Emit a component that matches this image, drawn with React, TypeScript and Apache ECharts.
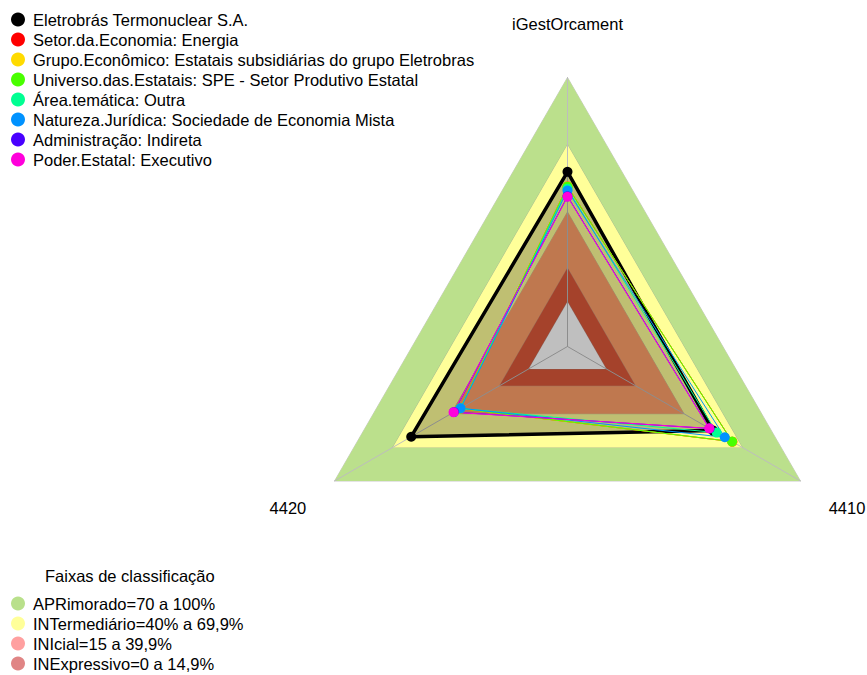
import React, { useEffect, useRef } from "react";
import * as echarts from "echarts";

// ---- data ----
const indicators = ["iGestOrcament", "4420", "4410"];
const axisMin = -20;
const axisMax = 100;

const entities = [
  "Eletrobrás Termonuclear S.A.",
  "Setor.da.Economia: Energia",
  "Grupo.Econômico: Estatais subsidiárias do grupo Eletrobras",
  "Universo.das.Estatais: SPE - Setor Produtivo Estatal",
  "Área.temática: Outra",
  "Natureza.Jurídica: Sociedade de Economia Mista",
  "Administração: Indireta",
  "Poder.Estatal: Executivo",
];
const entityColors = ["#000000", "#FF0000", "#FFDB00", "#49FF00", "#00FF92", "#0092FF", "#4900FF", "#FF00DB"];
const valIGestOrcament = [57.9, 51.4, 51.4, 51.3, 50.4, 49.6, 47.0, 46.8];
const val4420 = [60.5, 35.4, 35.4, 35.3, 35.2, 35.1, 38.5, 38.7];
const val4410 = [55.0, 64.9, 64.9, 64.8, 56.8, 61.0, 53.2, 53.0];

const bandNames = [
  "APRimorado=70 a 100%",
  "INTermediário=40% a 69,9%",
  "INIcial=15 a 39,9%",
  "INExpressivo=0 a 14,9%",
  "",
];
const bandUpper = [100, 70, 40, 15, 0];
const bandLegendColors = ["#b9e08b", "#ffff99", "#ffa0a0", "#e08585", "#ffffff"];
const bandFillColors = ["#bbe08c", "#ffff99", "#ffa06a", "#dc583a", "#ffffff"];
const legendTitle = "Faixas de classificação";

// ---- layout ----
const W = 867;
const H = 675;
const CX = 567.5;
const CY = 346.5;
const R = 269;
const FONT = "'Liberation Sans', Arial, sans-serif";
const FS = 16.5;

export default function App() {
  const ref = useRef<HTMLDivElement>(null);
  useEffect(() => {
    if (!ref.current) return;
    const chart = echarts.init(ref.current, undefined, { renderer: "svg" });

    const bandData = bandNames.map((n, i) => ({
      name: n || "base",
      value: indicators.map(() => bandUpper[i]),
      itemStyle: { color: bandLegendColors[i] },
      lineStyle: { color: "rgba(150,150,150,0.5)", width: 1 },
      areaStyle: { color: bandFillColors[i], opacity: 1 },
    }));

    const entityData = entities.map((n, i) => {
      const item: any = {
        name: n,
        value: [valIGestOrcament[i], val4420[i], val4410[i]],
        symbol: "circle",
        symbolSize: 10,
        itemStyle: { color: entityColors[i] },
        lineStyle: { color: entityColors[i], width: i === 0 ? 3.5 : 1 },
      };
      if (i === 0) item.areaStyle = { color: "rgba(0,0,0,0.25)", opacity: 1 };
      return item;
    });

    const nameTexts = indicators.map((name, i) => {
      const ang = Math.PI / 2 + (i * 2 * Math.PI) / indicators.length;
      return {
        type: "text",
        x: CX + 1.2 * R * Math.cos(ang),
        y: CY - 1.2 * R * Math.sin(ang),
        style: {
          text: name,
          fill: "#000",
          font: `${FS}px ${FONT}`,
          align: "center",
          verticalAlign: "middle",
        },
        z: 10,
      };
    });

    const legendBase = {
      orient: "vertical",
      left: 11,
      padding: 0,
      icon: "circle",
      itemWidth: 14,
      itemHeight: 14,
      itemGap: 3,
      height: 300,
      selectedMode: false,
      textStyle: { fontSize: FS, color: "#000", fontFamily: FONT, padding: [0, 0, 0, 3] },
    };

    chart.setOption({
      animation: false,
      backgroundColor: "#ffffff",
      textStyle: { fontFamily: FONT },
      title: {
        text: legendTitle,
        left: 45,
        top: 567,
        padding: 0,
        textStyle: { fontSize: FS, fontWeight: "normal", color: "#000", fontFamily: FONT },
      },
      legend: [
        { ...legendBase, data: entities, top: 11 },
        { ...legendBase, data: bandNames.filter((n) => n), top: 595 },
      ],
      radar: {
        center: [CX, CY],
        radius: R,
        startAngle: 90,
        shape: "polygon",
        z: 1.5,
        indicator: indicators.map((n) => ({ name: n, min: axisMin, max: axisMax })),
        axisName: { show: false },
        splitNumber: 4,
        splitLine: { show: false },
        splitArea: { show: false },
        axisLine: { show: true, lineStyle: { color: "#bdbdbd", width: 1 } },
        axisTick: { show: false },
        axisLabel: { show: false },
      },
      graphic: nameTexts,
      series: [
        {
          type: "radar",
          z: 1,
          symbol: "none",
          silent: true,
          data: bandData,
        },
        {
          type: "radar",
          z: 2,
          data: entityData,
        },
      ],
    });
    return () => chart.dispose();
  }, []);
  return (
    <div
      ref={ref}
      style={{ position: "fixed", left: 0, top: 0, width: W, height: H, background: "#fff" }}
    />
  );
}
